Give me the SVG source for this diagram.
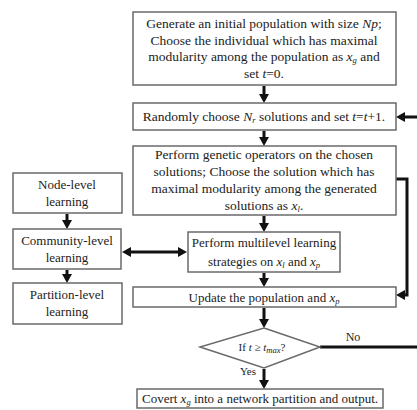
<svg xmlns="http://www.w3.org/2000/svg" width="417" height="410" viewBox="0 0 417 410">
<style>
.box{fill:#fff;stroke:#6a6a6a;stroke-width:1.5}
.t{font-family:"Liberation Serif","DejaVu Serif",serif;font-size:13.5px;fill:#222;text-anchor:middle}
.m{font-size:13px}
.i{font-style:italic}
.s{font-size:8.5px}
.c{fill:none;stroke:#111;stroke-width:3}
</style>
<defs>
<marker id="ah" markerUnits="userSpaceOnUse" markerWidth="9" markerHeight="10" refX="0" refY="5" orient="auto-start-reverse">
<path d="M0,0 L9,5 L0,10 z" fill="#111"/>
</marker>
</defs>
<rect width="417" height="410" fill="#fff"/>
<g id="connectors">
<line class="c" x1="264" y1="86" x2="264" y2="94" marker-end="url(#ah)"/>
<line class="c" x1="264" y1="131" x2="264" y2="137" marker-end="url(#ah)"/>
<line class="c" x1="264" y1="216" x2="264" y2="223" marker-end="url(#ah)"/>
<line class="c" x1="264" y1="273" x2="264" y2="278" marker-end="url(#ah)"/>
<line class="c" x1="264" y1="308" x2="264" y2="319" marker-end="url(#ah)"/>
<line class="c" x1="264" y1="369" x2="264" y2="380" marker-end="url(#ah)"/>
<line class="c" x1="67" y1="214" x2="67" y2="220" marker-end="url(#ah)"/>
<line class="c" x1="67" y1="270" x2="67" y2="274" marker-end="url(#ah)"/>
<line class="c" x1="131" y1="252" x2="178" y2="252" marker-start="url(#ah)" marker-end="url(#ah)"/>
<path class="c" d="M396,179 H407 V295 H405" marker-end="url(#ah)"/>
<path class="c" d="M320,347 H419 V117 H405" marker-end="url(#ah)"/>
</g>
<g id="n1">
<rect class="box" x="133" y="12" width="263" height="73"/>
<text class="t" x="264" y="28">Generate an initial population with size <tspan class="i">Np</tspan>;</text>
<text class="t" x="264" y="45">Choose the individual which has maximal</text>
<text class="t" x="264" y="61">modularity among the population as <tspan class="i">x</tspan><tspan class="s i" dy="2">g</tspan><tspan dy="-2"> and</tspan></text>
<text class="t" x="264" y="78">set <tspan class="i">t</tspan>=0.</text>
</g>
<g id="n2">
<rect class="box" x="133" y="103" width="263" height="27"/>
<text class="t" x="264" y="121">Randomly choose <tspan class="i">N</tspan><tspan class="s i" dy="2">r</tspan><tspan dy="-2"> solutions and set </tspan><tspan class="i">t</tspan>=<tspan class="i">t</tspan>+1.</text>
</g>
<g id="n3">
<rect class="box" x="133" y="146" width="263" height="69"/>
<text class="t" x="264" y="159">Perform genetic operators on the chosen</text>
<text class="t" x="264" y="176">solutions; Choose the solution which has</text>
<text class="t" x="264" y="193">maximal modularity among the generated</text>
<text class="t" x="264" y="210">solutions as <tspan class="i">x</tspan><tspan class="s i" dy="2">l</tspan><tspan dy="-2">.</tspan></text>
</g>
<g id="n4">
<rect class="box" x="188" y="232" width="152" height="40"/>
<text class="t m" x="264" y="247">Perform multilevel learning</text>
<text class="t m" x="264" y="266">strategies on <tspan class="i">x</tspan><tspan class="s i" dy="2">l</tspan><tspan dy="-2"> and </tspan><tspan class="i">x</tspan><tspan class="s i" dy="2">p</tspan></text>
</g>
<g id="n5">
<rect class="box" x="133" y="287" width="263" height="20"/>
<text class="t m" x="264" y="302">Update the population and  <tspan class="i">x</tspan><tspan class="s i" dy="2">p</tspan></text>
</g>
<g id="n6">
<polygon class="box" points="264,328 320,347 264,368 200,347"/>
<text class="t" x="262" y="351" style="font-size:11px">If <tspan class="i">t</tspan> ≥ <tspan class="i">t</tspan><tspan class="s i" dy="2">max</tspan><tspan dy="-2">?</tspan></text>
</g>
<g id="n7">
<rect class="box" x="137" y="389" width="246" height="19"/>
<text class="t m" x="260" y="403">Covert <tspan class="i">x</tspan><tspan class="s i" dy="2">g</tspan><tspan dy="-2"> into a network partition and output.</tspan></text>
</g>
<g id="n8">
<rect class="box" x="13" y="173" width="109" height="40"/>
<text class="t m" x="67" y="189">Node-level</text>
<text class="t m" x="67" y="206">learning</text>
</g>
<g id="n9">
<rect class="box" x="13" y="229" width="108" height="40"/>
<text class="t m" x="67" y="245">Community-level</text>
<text class="t m" x="67" y="262">learning</text>
</g>
<g id="n10">
<rect class="box" x="13" y="283" width="109" height="41"/>
<text class="t m" x="67" y="299">Partition-level</text>
<text class="t m" x="67" y="316">learning</text>
</g>
<g id="labels">
<text class="t" x="353" y="341" style="font-size:12px">No</text>
<text class="t" x="248" y="375" style="font-size:11px">Yes</text>
</g>
</svg>
